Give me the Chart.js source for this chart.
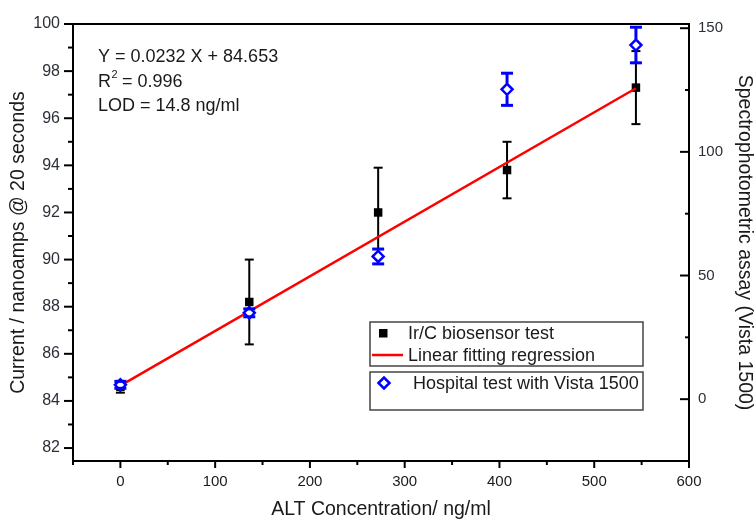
<!DOCTYPE html>
<html>
<head>
<meta charset="utf-8">
<script src="https://cdn.jsdelivr.net/npm/chart.js@4.4.1/dist/chart.umd.min.js"></script>
<style>
  html, body { margin: 0; padding: 0; background: #fff; }
  #wrap { width: 754px; height: 522px; }
</style>
</head>
<body>
<div id="wrap"><canvas id="altChart" width="754" height="522"></canvas></div>
<script>
// ALT concentrations (ng/ml)
const concentrations = [0, 136, 272, 408, 544];

// Ir/C biosensor current (nA @ 20 s) with error
const sensorCurrent = [84.6, 88.2, 92.0, 93.8, 97.3];
const sensorError = [0.25, 1.8, 1.9, 1.2, 1.55];

// hospital assay, Vista 1500 (right axis)
const vistaValues = [5.8, 34.9, 57.7, 125.3, 143.2];
const vistaError = [1.4, 1.6, 3.0, 6.5, 7.2];

// linear regression of the sensor data
const fitSlope = 0.0232;
const fitIntercept = 84.653;
const fitR2 = '0.996';
const lodText = '14.8 ng/ml';

// axis ticks
const xTicks = [0, 100, 200, 300, 400, 500, 600];
const xMinor = [-50, 50, 150, 250, 350, 450, 550];
const leftTicks = [82, 84, 86, 88, 90, 92, 94, 96, 98, 100];
const leftMinor = [83, 85, 87, 89, 91, 93, 95, 97, 99];
const rightTicks = [0, 50, 100, 150];
const rightMinor = [-25, 25, 75, 125];

const FONT = "'Liberation Sans', Arial, sans-serif";
const TXT = '#1a1a1a';
const TICK_TXT = '#2b2f3a';

const fitLine = [concentrations[0], concentrations[concentrations.length - 1]]
    .map(x => ({ x, y: fitSlope * x + fitIntercept }));

function line(ctx, x1, y1, x2, y2) {
    ctx.beginPath();
    ctx.moveTo(x1, y1);
    ctx.lineTo(x2, y2);
    ctx.stroke();
}

// error bars: black ones under the markers, blue ones on top (outside the diamond)
const errorBars = {
    id: 'errorBars',
    beforeDatasetsDraw(chart) {
        const { ctx, scales: { x, y } } = chart;
        ctx.save();
        ctx.strokeStyle = '#000';
        ctx.lineWidth = 2;
        concentrations.forEach((c, i) => {
            const px = x.getPixelForValue(c);
            const top = y.getPixelForValue(sensorCurrent[i] + sensorError[i]);
            const bot = y.getPixelForValue(sensorCurrent[i] - sensorError[i]);
            line(ctx, px, top, px, bot);
            line(ctx, px - 4.5, top, px + 4.5, top);
            line(ctx, px - 4.5, bot, px + 4.5, bot);
        });
        ctx.restore();
    },
    afterDatasetsDraw(chart) {
        const { ctx, scales: { x, y2 } } = chart;
        ctx.save();
        ctx.strokeStyle = '#0000ff';
        ctx.lineWidth = 3;
        const r = 6;
        concentrations.forEach((c, i) => {
            const px = x.getPixelForValue(c);
            const mid = y2.getPixelForValue(vistaValues[i]);
            const top = y2.getPixelForValue(vistaValues[i] + vistaError[i]);
            const bot = y2.getPixelForValue(vistaValues[i] - vistaError[i]);
            if (mid - top > r) line(ctx, px, top, px, mid - r);
            if (bot - mid > r) line(ctx, px, mid + r, px, bot);
            line(ctx, px - 6, top, px + 6, top);
            line(ctx, px - 6, bot, px + 6, bot);
        });
        ctx.restore();
    }
};

// frame, major/minor ticks, fit text and the two legend boxes
const decorations = {
    id: 'decorations',
    afterDraw(chart) {
        const { ctx, chartArea: a, scales: { x, y, y2 } } = chart;
        ctx.save();
        ctx.strokeStyle = '#000';
        ctx.lineWidth = 2;
        leftTicks.forEach(v => { const p = y.getPixelForValue(v); line(ctx, a.left - 9, p, a.left, p); });
        leftMinor.forEach(v => { const p = y.getPixelForValue(v); line(ctx, a.left - 5, p, a.left, p); });
        rightTicks.forEach(v => { const p = y2.getPixelForValue(v); line(ctx, a.right - 9, p, a.right, p); });
        rightMinor.forEach(v => { const p = y2.getPixelForValue(v); line(ctx, a.right - 4, p, a.right, p); });
        xTicks.forEach(v => { const p = x.getPixelForValue(v); line(ctx, p, a.bottom, p, a.bottom + 7); });
        xMinor.forEach(v => { const p = x.getPixelForValue(v); line(ctx, p, a.bottom, p, a.bottom + 4); });
        ctx.strokeRect(a.left, a.top, a.right - a.left, a.bottom - a.top);

        // regression text
        ctx.fillStyle = TXT;
        ctx.textBaseline = 'middle';
        ctx.textAlign = 'left';
        ctx.font = '18px ' + FONT;
        ctx.fillText('Y = ' + fitSlope + ' X + ' + fitIntercept, 98, 57);
        ctx.fillText('R', 98, 82);
        const rw = ctx.measureText('R').width;
        ctx.fillText(' = ' + fitR2, 98 + rw + 6, 82);
        ctx.font = '11px ' + FONT;
        ctx.fillText('2', 98 + rw + 0.5, 75);
        ctx.font = '18px ' + FONT;
        ctx.fillText('LOD = ' + lodText, 98, 106);

        // legend
        ctx.strokeStyle = '#444';
        ctx.lineWidth = 1.5;
        ctx.strokeRect(370, 322, 273, 44);
        ctx.strokeRect(370, 372, 273, 38);
        ctx.fillStyle = '#000';
        ctx.fillRect(379, 329, 8.5, 8.5);
        ctx.strokeStyle = '#ff0000';
        ctx.lineWidth = 2.5;
        line(ctx, 372, 355, 403, 355);
        ctx.strokeStyle = '#0000ff';
        ctx.fillStyle = '#fff';
        ctx.lineWidth = 2.5;
        ctx.beginPath();
        ctx.moveTo(378.5, 383); ctx.lineTo(384, 377.5); ctx.lineTo(389.5, 383); ctx.lineTo(384, 388.5);
        ctx.closePath();
        ctx.fill();
        ctx.stroke();
        ctx.fillStyle = TXT;
        ctx.font = '18px ' + FONT;
        ctx.fillText('Ir/C biosensor test', 408, 334);
        ctx.fillText('Linear fitting regression', 408, 356);
        ctx.fillText('Hospital test with Vista 1500', 413, 384);
        ctx.restore();
    }
};

const tickFont = { family: FONT, size: 15 };
const titleFont = { family: FONT, size: 19.5, lineHeight: 1 };

const ctx = document.getElementById('altChart').getContext('2d');
const altChart = new Chart(ctx, {
    type: 'scatter',
    data: {
        datasets: [
            {
                label: 'Hospital test with Vista 1500',
                data: concentrations.map((c, i) => ({ x: c, y: vistaValues[i] })),
                yAxisID: 'y2',
                pointStyle: 'rectRot',
                pointRadius: 5.5,
                borderColor: '#0000ff',
                backgroundColor: '#ffffff',
                borderWidth: 2.5,
                order: 0
            },
            {
                type: 'line',
                label: 'Linear fitting regression',
                data: fitLine,
                yAxisID: 'y',
                borderColor: '#ff0000',
                borderWidth: 2.5,
                pointRadius: 0,
                fill: false,
                order: 1
            },
            {
                label: 'Ir/C biosensor test',
                data: concentrations.map((c, i) => ({ x: c, y: sensorCurrent[i] })),
                yAxisID: 'y',
                pointStyle: 'rect',
                pointRadius: 6,
                backgroundColor: '#000',
                borderColor: '#000',
                borderWidth: 0,
                order: 2
            }
        ]
    },
    options: {
        responsive: false,
        animation: false,
        layout: { padding: { top: 24, left: 0, right: 0, bottom: 0 } },
        plugins: { legend: { display: false }, tooltip: { enabled: false } },
        scales: {
            x: {
                type: 'linear', position: 'bottom', min: -50, max: 600,
                afterBuildTicks: s => { s.ticks = xTicks.map(v => ({ value: v })); },
                afterFit: s => { s.height = 61; },
                grid: { display: false, drawTicks: false },
                border: { display: false },
                ticks: { padding: 12, color: TXT, font: tickFont, maxRotation: 0 },
                title: { display: true, text: 'ALT Concentration/ ng/ml', color: TXT, font: titleFont, padding: { top: 0, bottom: 2.5 } }
            },
            y: {
                type: 'linear', position: 'left', min: 81.45, max: 100,
                afterBuildTicks: s => { s.ticks = leftTicks.map(v => ({ value: v })); },
                afterFit: s => { s.width = 73; },
                grid: { display: false, drawTicks: false },
                border: { display: false },
                ticks: { padding: 13, color: TICK_TXT, font: { family: FONT, size: 16 } },
                title: { display: true, text: 'Current / nanoamps @ 20 seconds', color: TXT, font: titleFont, padding: { top: 9, bottom: 0 } }
            },
            y2: {
                type: 'linear', position: 'right', min: -25, max: 151.7,
                afterBuildTicks: s => { s.ticks = rightTicks.map(v => ({ value: v })); },
                afterFit: s => { s.width = 65; },
                grid: { display: false, drawTicks: false },
                border: { display: false },
                ticks: { padding: 9, color: TICK_TXT, font: tickFont },
                title: { display: true, text: 'Spectrophotometric assay (Vista 1500)', color: TXT, font: titleFont, padding: { top: 0, bottom: 0 } }
            }
        }
    },
    plugins: [errorBars, decorations]
});
</script>
</body>
</html>
